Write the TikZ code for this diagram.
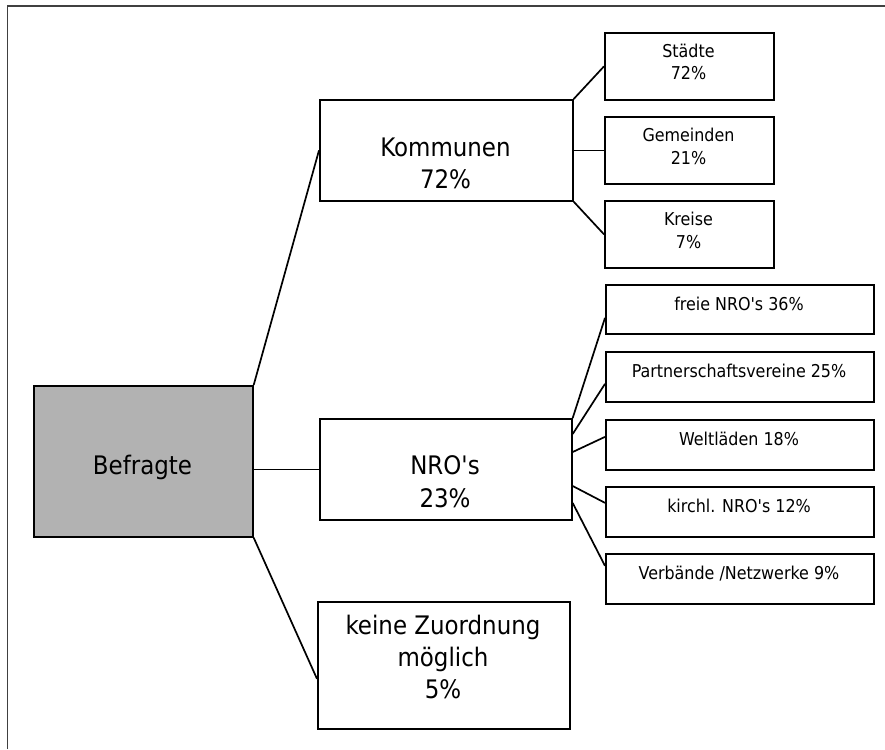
\documentclass[tikz,border=0pt]{standalone}
\usepackage{fontspec}
\setmainfont{DejaVu Sans Condensed}
\begin{document}
\begin{tikzpicture}[x=1pt,y=-1pt,
  box/.style={draw=black, line width=1.7pt, fill=white, inner sep=0pt, anchor=north west},
  link/.style={draw=black, line width=1.7pt},
  bigtxt/.style={anchor=base, inner sep=0pt, font=\fontsize{25.5}{32}\selectfont},
  smalltxt/.style={anchor=base, inner sep=0pt, font=\fontsize{17.7}{22}\selectfont}]
\useasboundingbox (0,0) rectangle (885,749);
% page frame (top and left rules)
\draw[line width=1.5pt, draw=black!75] (7.5,749) -- (7.5,6) -- (885,6);

% root
\node[box, fill={rgb,255:red,178;green,178;blue,178}, minimum width=219pt, minimum height=151pt] (befragte) at (33,385) {};
\node[bigtxt] (befragte-t) at (142.5,474) {Befragte};

% first level
\node[box, minimum width=253pt, minimum height=101pt] (kom) at (319,99) {};
\node[bigtxt] (kom-t1) at (445.5,156) {Kommunen};
\node[bigtxt] (kom-t2) at (445.5,188) {72\%};

\node[box, minimum width=252pt, minimum height=101pt] (nro) at (319,418) {};
\node[bigtxt] (nro-t1) at (445,474) {NRO\textquotesingle s};
\node[bigtxt] (nro-t2) at (445,507) {23\%};

\node[box, minimum width=252pt, minimum height=127pt] (keine) at (317,601) {};
\node[bigtxt] (keine-t1) at (443,634) {keine Zuordnung};
\node[bigtxt] (keine-t2) at (443,666) {möglich};
\node[bigtxt] (keine-t3) at (443,698) {5\%};

% municipalities
\node[box, minimum width=169pt, minimum height=67pt] (staedte) at (604,32) {};
\node[smalltxt] (staedte-t1) at (688.5,57.7) {Städte};
\node[smalltxt] (staedte-t2) at (688.5,80) {72\%};

\node[box, minimum width=169pt, minimum height=67pt] (gem) at (604,116) {};
\node[smalltxt] (gem-t1) at (688.5,141.7) {Gemeinden};
\node[smalltxt] (gem-t2) at (688.5,164) {21\%};

\node[box, minimum width=169pt, minimum height=67pt] (kreise) at (604,200) {};
\node[smalltxt] (kreise-t1) at (688.5,225.7) {Kreise};
\node[smalltxt] (kreise-t2) at (688.5,248) {7\%};

% NGO groups
\node[box, minimum width=268pt, minimum height=49pt] (freie) at (605,284) {};
\node[smalltxt] (freie-t) at (739,310) {freie NRO\textquotesingle s 36\%};
\node[box, minimum width=268pt, minimum height=50pt] (partner) at (605,351) {};
\node[smalltxt] (partner-t) at (739,377) {Partnerschaftsvereine 25\%};
\node[box, minimum width=268pt, minimum height=50pt] (welt) at (605,419) {};
\node[smalltxt] (welt-t) at (739,445) {Weltläden 18\%};
\node[box, minimum width=268pt, minimum height=50pt] (kirchl) at (605,486) {};
\node[smalltxt] (kirchl-t) at (739,512) {kirchl. NRO\textquotesingle s 12\%};
\node[box, minimum width=268pt, minimum height=50pt] (verb) at (605,553) {};
\node[smalltxt] (verb-t) at (739,579) {Verbände /Netzwerke 9\%};

% connectors from the root
\draw[link] (befragte.north east) -- (kom.west);
\draw[link] (befragte.east |- nro.west) -- (nro.west);
\draw[link] (befragte.south east) -- ([yshift=-13.5pt]keine.west);

% connectors to the municipalities
\draw[link] (kom.north east) -- (staedte.west);
\draw[link] (kom.east) -- (gem.west);
\draw[link] (kom.south east) -- (kreise.west);

% connectors to the NGO groups
\draw[link] (nro.north east) -- ([yshift=-8.5pt]freie.west);
\draw[link] ([yshift=-16pt]nro.north east) -- ([yshift=-7pt]partner.west);
\draw[link] ([yshift=-34pt]nro.north east) -- ([yshift=8pt]welt.west);
\draw[link] ([yshift=-68pt]nro.north east) -- ([yshift=9pt]kirchl.west);
\draw[link] ([yshift=-85pt]nro.north east) -- ([yshift=13pt]verb.west);
\end{tikzpicture}
\end{document}
